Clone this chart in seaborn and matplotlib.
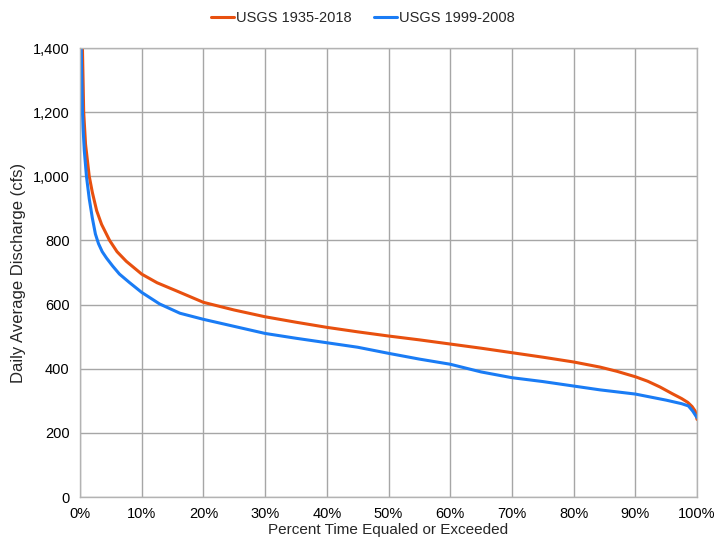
import matplotlib
matplotlib.use("Agg")
import matplotlib.pyplot as plt
import matplotlib.ticker as mticker
import seaborn as sns

# ===============================
# Flow duration data
# ===============================
pct_long = [0.15, 0.4, 0.6, 0.9, 1.5, 2.0, 2.7, 3.5, 4.8, 6.0, 7.5, 10, 12.5, 15.6, 20, 25, 30,
            35, 40, 45, 50, 55, 60, 65, 70, 75, 80, 84.3, 87, 90, 92, 94, 96, 97.5, 98.5, 99.2,
            99.7, 100]
q_long = [1700, 1400, 1200, 1100, 1000, 950, 893, 850, 800, 765, 735, 695, 668, 643, 607, 583, 562,
          545, 529, 515, 502, 490, 477, 464, 450, 436, 421, 405, 392, 375, 361, 343, 322, 307, 295,
          282, 268, 242]

pct_short = [0.1, 0.2, 0.4, 0.5, 0.7, 1.05, 1.5, 2.0, 2.5, 3.0, 3.6, 4.3, 5.3, 6.4, 8, 10, 12.9,
             16.2, 20, 25, 30, 35, 40, 45, 50, 55, 60, 65, 70, 75, 80, 84.3, 90, 95, 97.5, 98.6,
             99.3, 99.7, 100]
q_short = [1700, 1400, 1200, 1150, 1080, 1000, 930, 870, 820, 790, 765, 745, 720, 695, 669, 638, 602,
           573, 554, 532, 510, 495, 481, 467, 448, 430, 414, 390, 372, 360, 346, 334, 321, 302, 291,
           284, 268, 256, 248]

labels = ["USGS 1935-2018", "USGS 1999-2008"]
colors = ["#E8500F", "#1A7CF5"]

sns.set_style("white")
plt.rcParams["font.family"] = ["Liberation Sans", "DejaVu Sans"]

fig = plt.figure(figsize=(7.18, 5.43), dpi=100)
ax = fig.add_axes([0.1114, 0.0847, 0.8594, 0.8269])

sns.lineplot(x=pct_long, y=q_long, ax=ax, color=colors[0], linewidth=2.2,
             label=labels[0], estimator=None, sort=False)
sns.lineplot(x=pct_short, y=q_short, ax=ax, color=colors[1], linewidth=2.2,
             label=labels[1], estimator=None, sort=False)

ax.set_xlim(0, 100)
ax.set_ylim(0, 1400)
ax.set_xticks(range(0, 101, 10))
ax.set_yticks(range(0, 1401, 200))
ax.xaxis.set_major_formatter(mticker.FuncFormatter(lambda v, p: f"{v:.0f}%"))
ax.yaxis.set_major_formatter(mticker.FuncFormatter(lambda v, p: f"{v:,.0f}"))
ax.grid(True, color="#a6a6a6", linewidth=1.0)
ax.set_axisbelow(True)
for s in ax.spines.values():
    s.set_color("#b3b3b3")
    s.set_linewidth(1.0)
ax.tick_params(axis="both", length=4, color="#b3b3b3", labelsize=10.5, labelcolor="#000000")

ax.set_xlabel("Percent Time Equaled or Exceeded", fontsize=11, labelpad=1)
ax.set_ylabel("Daily Average Discharge (cfs)", fontsize=12, labelpad=5)

# legend sits above the plot, a bit left of centre
ax.get_legend().remove()
handles, _ = ax.get_legend_handles_labels()
fig.legend(handles, labels, loc="center", bbox_to_anchor=(363 / 718, 1 - 18 / 543), ncol=2,
           frameon=False, fontsize=10.5, handlelength=1.6, handletextpad=0.15,
           columnspacing=1.5, borderaxespad=0, borderpad=0)

plt.savefig("out.png", dpi=100)
